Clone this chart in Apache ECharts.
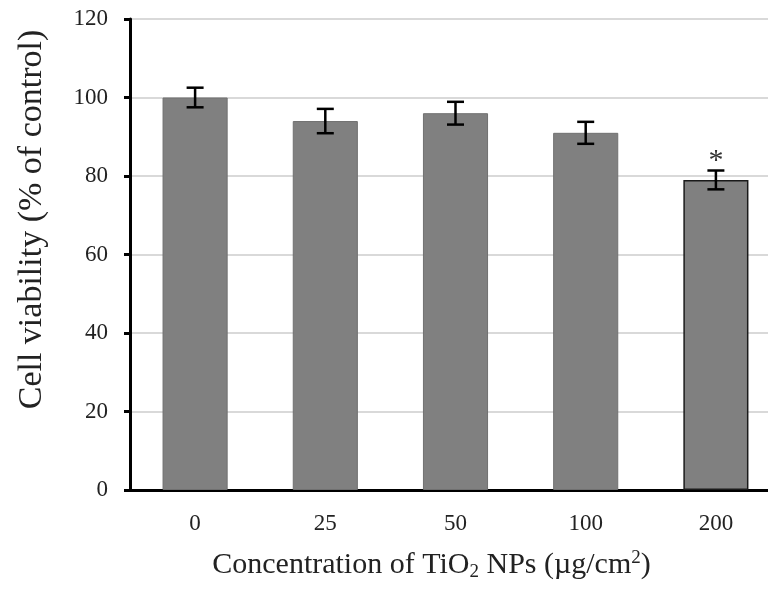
<!DOCTYPE html>
<html>
<head>
<meta charset="utf-8">
<script src="https://cdn.jsdelivr.net/npm/echarts@6/dist/echarts.min.js"></script>
<style>
  html, body { margin: 0; padding: 0; background: #fff; }
  #chart { width: 768px; height: 593px; }
</style>
</head>
<body>
<div id="chart"></div>
<script>
// data
const categories = ['0', '25', '50', '100', '200'];
const viability = [100, 94, 96, 91, 79];
const errors = [2.5, 3.1, 2.9, 2.8, 2.4];
const sigMarks = ['', '', '', '', '*'];
const yTicks = [0, 20, 40, 60, 80, 100, 120];

const font = '"Liberation Serif", "DejaVu Serif", serif';

const chart = echarts.init(document.getElementById('chart'));

const barData = viability.map((v, i) => {
  if (sigMarks[i]) {
    return { value: v, itemStyle: { borderColor: '#1a1a1a', borderWidth: 1.5 } };
  }
  return v;
});

const errData = viability.map((v, i) => [i, v - errors[i], v + errors[i], sigMarks[i]]);

const option = {
  animation: false,
  backgroundColor: '#fff',
  grid: { left: 130, top: 19, width: 651, height: 471, containLabel: false, outerBoundsMode: 'none' },
  xAxis: {
    type: 'category',
    data: categories,
    name: '{n|Concentration of TiO}{sub|2}{n| NPs (\u00b5g/cm}{sup|2}{n|)}',
    nameLocation: 'middle',
    nameGap: 58,
    nameTextStyle: {
      padding: [0, 48, 0, 0],
      rich: {
        n: { fontFamily: font, fontSize: 30, color: '#222' },
        sub: { fontFamily: font, fontSize: 19, color: '#222', padding: [15, 0, 0, 0] },
        sup: { fontFamily: font, fontSize: 19, color: '#222', padding: [0, 0, 13, 0] }
      }
    },
    axisLine: { lineStyle: { color: '#000', width: 3 } },
    axisTick: { show: false },
    axisLabel: { fontFamily: font, fontSize: 23, color: '#222', margin: 22 },
    splitLine: { show: false }
  },
  yAxis: {
    type: 'value',
    min: yTicks[0],
    max: yTicks[yTicks.length - 1],
    interval: 20,
    name: 'Cell viability (% of control)',
    nameLocation: 'middle',
    nameGap: 81,
    nameTextStyle: { fontFamily: font, fontSize: 34, color: '#222', padding: [0, 0, 0, 70] },
    axisLine: { show: true, lineStyle: { color: '#000', width: 3 } },
    axisTick: { show: true, length: 6, lineStyle: { color: '#000', width: 3 } },
    axisLabel: { fontFamily: font, fontSize: 23, color: '#222', margin: 22 },
    splitLine: { lineStyle: { color: '#d9d9d9', width: 2 } }
  },
  series: [
    {
      type: 'bar',
      data: barData,
      barWidth: '50%',
      itemStyle: { color: '#808080', borderColor: '#707070', borderWidth: 1 },
      z: 2
    },
    {
      type: 'custom',
      data: errData,
      z: 3,
      renderItem: function (params, api) {
        const x = api.value(0);
        const lo = api.coord([x, api.value(1)]);
        const hi = api.coord([x, api.value(2)]);
        const cap = 8.5;
        const style = { stroke: '#000', lineWidth: 2.5 };
        const children = [
          { type: 'line', shape: { x1: lo[0], y1: lo[1], x2: hi[0], y2: hi[1] }, style: style },
          { type: 'line', shape: { x1: lo[0] - cap, y1: lo[1], x2: lo[0] + cap, y2: lo[1] }, style: style },
          { type: 'line', shape: { x1: hi[0] - cap, y1: hi[1], x2: hi[0] + cap, y2: hi[1] }, style: style }
        ];
        const mark = errData[params.dataIndex][3];
        if (mark) {
          children.push({
            type: 'text',
            style: {
              text: mark, x: hi[0], y: hi[1] + 6,
              align: 'center', verticalAlign: 'bottom',
              font: '30px ' + font, fill: '#333'
            }
          });
        }
        return { type: 'group', children: children };
      }
    }
  ]
};

chart.setOption(option);
</script>
</body>
</html>
